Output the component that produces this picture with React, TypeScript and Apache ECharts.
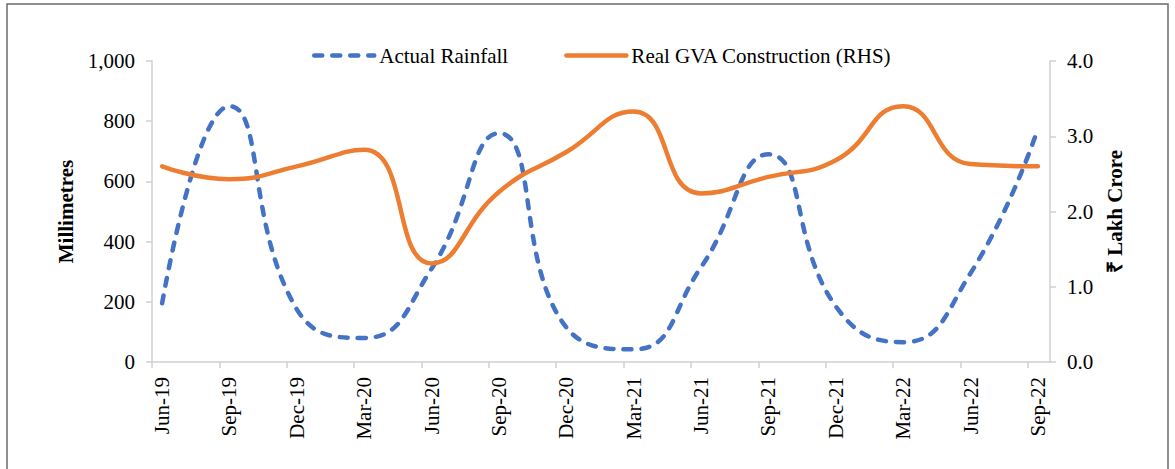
import React, { useEffect, useRef } from "react";
import * as echarts from "echarts";

const categories = [
  "Jun-19", "Sep-19", "Dec-19", "Mar-20", "Jun-20", "Sep-20", "Dec-20",
  "Mar-21", "Jun-21", "Sep-21", "Dec-21", "Mar-22", "Jun-22", "Sep-22",
];
const rainfall = [195, 850, 175, 80, 310, 760, 115, 42, 315, 690, 185, 66, 295, 775];
const gvaConstruction = [2.6, 2.43, 2.6, 2.82, 1.31, 2.26, 2.79, 3.33, 2.24, 2.46, 2.68, 3.4, 2.63, 2.6];
const leftTicks = [0, 200, 400, 600, 800, 1000];
const rightTicks = [0, 1, 2, 3, 4];

const FONT = "'Liberation Serif', 'Times New Roman', serif";
const POINT_OFFSET = 0.15; // data sit slightly right of each category tick

export default function App() {
  const ref = useRef<HTMLDivElement>(null);
  useEffect(() => {
    if (!ref.current) return;
    const chart = echarts.init(ref.current, undefined, { renderer: "svg" });
    const tickIdx = categories.map((_, i) => i);
    const labelPos = categories.map((_, i) => i + POINT_OFFSET);
    chart.setOption({
      animation: false,
      backgroundColor: "#ffffff",
      textStyle: { fontFamily: FONT },
      graphic: [
        {
          type: "rect",
          shape: { x: 7, y: 4, width: 1161, height: 480 },
          style: { fill: "none", stroke: "#6b6b6b", lineWidth: 1.5 },
          silent: true,
        },
      ],
      legend: {
        left: 307,
        top: 40,
        itemWidth: 60,
        itemHeight: 20,
        itemGap: 56,
        itemStyle: { opacity: 0 },
        lineStyle: { width: 4.5 },
        textStyle: { fontFamily: FONT, fontSize: 21, color: "#000" },
        data: ["Actual Rainfall", "Real GVA Construction (RHS)"],
      },
      grid: { left: 152, right: 125, top: 61, bottom: 107, containLabel: false },
      xAxis: {
        type: "value",
        min: 0,
        max: 13.33,
        splitLine: { show: false },
        axisLine: { show: true, onZero: false, lineStyle: { color: "#d0d0d0", width: 1.5 } },
        axisTick: { show: true, length: 6, customValues: tickIdx, lineStyle: { color: "#d0d0d0", width: 1.5 } },
        axisLabel: {
          customValues: labelPos,
          rotate: 90,
          margin: 15,
          fontFamily: FONT,
          fontSize: 21,
          color: "#000",
          formatter: (v: number) => {
            const r = Math.round(v - POINT_OFFSET);
            return categories[r] ?? "";
          },
        },
      },
      yAxis: [
        {
          type: "value",
          min: 0,
          max: 1000,
          interval: 200,
          position: "left",
          name: "Millimetres",
          nameLocation: "middle",
          nameGap: 70,
          nameTextStyle: { fontFamily: FONT, fontSize: 21, fontWeight: "bold", color: "#000" },
          splitLine: { show: false },
          axisLine: { show: true, lineStyle: { color: "#d0d0d0", width: 1.5 } },
          axisTick: { show: true, length: 6, lineStyle: { color: "#d0d0d0", width: 1.5 } },
          axisLabel: {
            margin: 17,
            fontFamily: FONT,
            fontSize: 21,
            color: "#000",
            formatter: (v: number) => (leftTicks.includes(v) ? v.toLocaleString("en-US") : ""),
          },
        },
        {
          type: "value",
          min: 0,
          max: 4,
          interval: 1,
          position: "right",
          name: "₹ Lakh Crore",
          nameLocation: "middle",
          nameRotate: 90,
          nameGap: 54,
          nameTextStyle: { fontFamily: FONT, fontSize: 21, fontWeight: "bold", color: "#000" },
          splitLine: { show: false },
          axisLine: { show: true, lineStyle: { color: "#d0d0d0", width: 1.5 } },
          axisTick: { show: true, length: 6, lineStyle: { color: "#d0d0d0", width: 1.5 } },
          axisLabel: {
            margin: 17,
            fontFamily: FONT,
            fontSize: 21,
            color: "#000",
            formatter: (v: number) => (rightTicks.includes(v) ? v.toFixed(1) : ""),
          },
        },
      ],
      series: [
        {
          name: "Actual Rainfall",
          type: "line",
          yAxisIndex: 0,
          smooth: 0.5,
          symbol: "none",
          data: rainfall.map((v, i) => [i + POINT_OFFSET, v]),
          itemStyle: { color: "#4472C4" },
          lineStyle: { color: "#4472C4", width: 4.5, type: [8, 10], cap: "round" },
        },
        {
          name: "Real GVA Construction (RHS)",
          type: "line",
          yAxisIndex: 1,
          smooth: 0.5,
          symbol: "none",
          data: gvaConstruction.map((v, i) => [i + POINT_OFFSET, v]),
          itemStyle: { color: "#ED7D31" },
          lineStyle: { color: "#ED7D31", width: 4.5, cap: "round" },
        },
      ],
    });
    return () => chart.dispose();
  }, []);
  return (
    <div
      ref={ref}
      style={{ position: "fixed", left: 0, top: 0, width: 1175, height: 469 }}
    />
  );
}
